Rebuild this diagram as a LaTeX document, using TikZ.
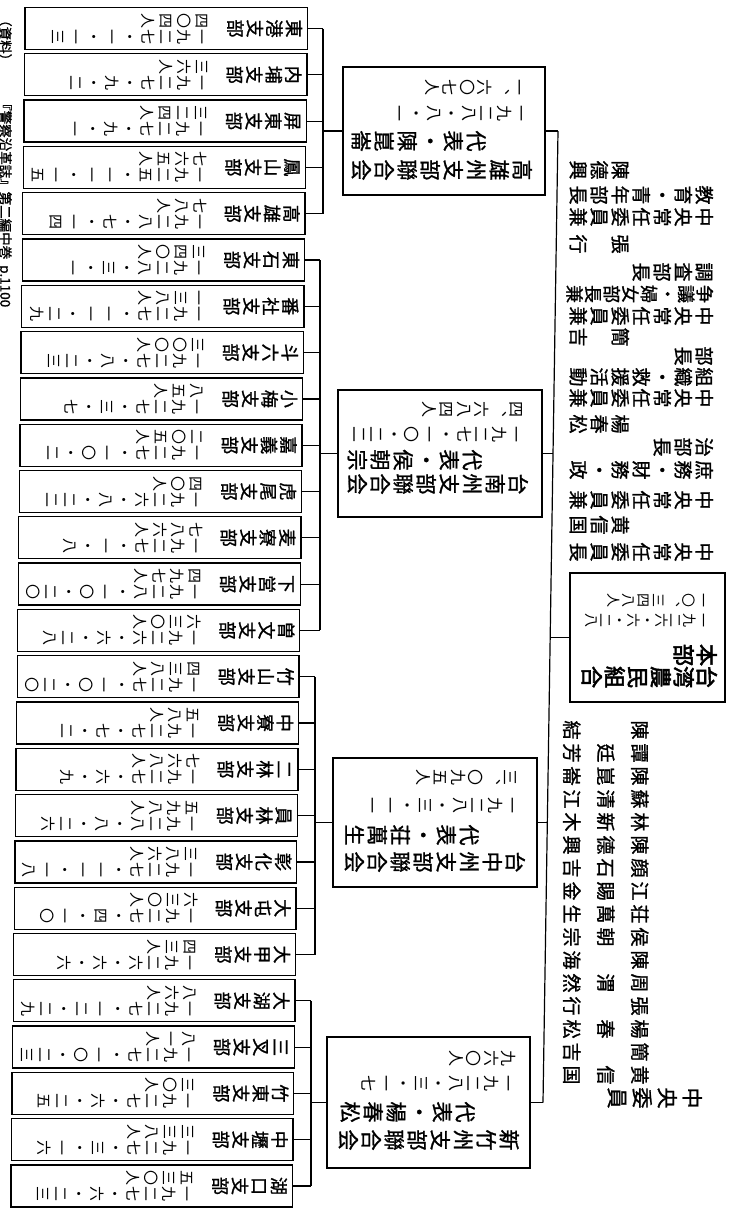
\documentclass[tikz,border=0pt]{standalone}
\usepackage{fontspec}
\newfontfamily\jp{Noto Sans CJK JP}
\newfontfamily\jpb[FakeBold=1.2]{Noto Sans CJK JP}
\newfontfamily\jpbb[FakeBold=2.5]{Noto Sans CJK JP}
\usetikzlibrary{calc}
\makeatletter
\newcommand\tcol[3]{\vtop{\fontsize{#1}{#2}\selectfont\lineskiplimit=-\maxdimen\lineskip=0pt
  \edef\tcolarg{#3}\def\tcolloop{\@tfor\tc:=}%
  \expandafter\tcolloop\tcolarg\do{\hbox to #1pt{\hss\vrule height .88em depth .12em width 0pt\tc\hss}}}}
\makeatother
\begin{document}
\begin{tikzpicture}[x=1pt,y=-1pt,
  tate/.style={rotate=-90,inner sep=0pt,anchor=north},
  yoko/.style={rotate=-90,inner sep=0pt,anchor=north west},
  leafbox/.style={draw,line width=1.3pt,minimum height=42pt,inner sep=0pt},
  fedbox/.style={draw,line width=1.3pt,inner sep=0pt},
  conn/.style={line width=1.2pt}]
\useasboundingbox (0,0) rectangle (731,1208);
% bracket x positions
\coordinate (kbx) at (323,0);
\coordinate (tbx) at (320,0);
\coordinate (cbx) at (315,0);
\coordinate (hbx) at (311,0);
% leaves
\foreach \i/\g/\hd/\mb/\dt in {
1/kbx/東港支部/四〇四人/一九二七・一・一三,
2/kbx/内埔支部/三六人/一九二七・九・二,
3/kbx/屏東支部/三二四人/一九二七・九・一,
4/kbx/鳳山支部/七六五人/一九二五・一一・一五,
5/kbx/高雄支部/七八人/一九二八・七・一四,
6/tbx/東石支部/三四〇人/一九二八・三・一,
7/tbx/番社支部/一三八人/一九二七・一一・二九,
8/tbx/斗六支部/三〇〇人/一九二七・八・二三,
9/tbx/小梅支部/八五人/一九二七・三・七,
10/tbx/嘉義支部/二〇五人/一九二七・一〇・二,
11/tbx/虎尾支部/四〇人/一九二六・八・二二,
12/tbx/麦寮支部/七八六人/一九二七・一・八,
13/tbx/下営支部/四九七人/一九二八・一〇・二〇,
14/tbx/曽文支部/六三〇人/一九二六・六・二八,
15/cbx/竹山支部/四三八人/一九二七・一〇・二〇,
16/cbx/中寮支部/五八人/一九二七・七・二,
17/cbx/二林支部/七六八人/一九二七・六・九,
18/cbx/員林支部/五九八人/一九二八・八・二六,
19/cbx/彰化支部/三八六人/一九二七・一一・一八,
20/cbx/大屯支部/六三〇人/一九二七・四・一〇,
21/cbx/大甲支部/四三人/一九二六・六・六,
22/hbx/大湖支部/八六人/一九二七・一二・二九,
23/hbx/三叉支部/八一人/一九二七・一〇・二三,
24/hbx/竹東支部/三〇人/一九二七・六・二五,
25/hbx/中壢支部/三三八人/一九二七・三・一六,
26/hbx/湖口支部/五三〇人/一九二七・六・二三}{
  \pgfmathsetmacro\cy{28.5+46.3*(\i-1)}
  \pgfmathsetmacro\R{307.5-0.6*(\i-1)}
  \pgfmathsetmacro\L{25-0.56*(\i-1)}
  \pgfmathsetmacro\W{\R-\L}
  \pgfmathsetmacro\cx{(\L+\R)/2}
  \node[leafbox,minimum width=\W pt] (leaf\i) at (\cx,\cy) {};
  \node[tate,font=\jpb] (leafh\i) at ($(leaf\i.east)+(-5,0)$) {\tcol{18}{19.5}{\hd}};
  \node[tate,font=\jp] (leafn\i) at ($(leaf\i.east)+(-98,0)$) {\hbox{\tcol{15}{18}{\mb}\hskip1pt\tcol{15}{18}{\dt}}};
  \draw[conn] (leaf\i.east) -- (leaf\i.east -| \g);
}
% brackets
\draw[conn] (leaf1.east -| kbx) -- (leaf5.east -| kbx);
\draw[conn] (leaf6.east -| tbx) -- (leaf14.east -| tbx);
\draw[conn] (leaf15.east -| cbx) -- (leaf21.east -| cbx);
\draw[conn] (leaf22.east -| hbx) -- (leaf26.east -| hbx);
% federation boxes
\node[fedbox,minimum width=202pt,minimum height=128pt] (kfed) at (444,131) {};
\node[tate,font=\jpb] (kfedh) at (533,170) {\tcol{21}{23}{高雄州支部聯合会}};
\node[tate,font=\jpb] (kfedr) at (487,141) {\tcol{21}{23}{代表・陳崑崙}};
\node[tate,font=\jp] (kfedd) at (530,113) {\tcol{16}{17.5}{一九二八・八・一}};
\node[tate,font=\jp] (kfedm) at (528,87) {\tcol{16}{17.5}{一︑六〇七人}};

\node[fedbox,minimum width=204pt,minimum height=127pt] (tfed) at (440,453.5) {};
\node[tate,font=\jpb] (tfedh) at (529,484) {\tcol{21}{23}{台南州支部聯合会}};
\node[tate,font=\jpb] (tfedr) at (483,460) {\tcol{21}{23}{代表・侯朝宗}};
\node[tate,font=\jp] (tfedd) at (525,434) {\tcol{16}{17.5}{一九二七・一〇・二二}};
\node[tate,font=\jp] (tfedm) at (525,409) {\tcol{16}{17.5}{四︑六八四人}};

\node[fedbox,minimum width=204pt,minimum height=129pt] (cfed) at (435,822.5) {};
\node[tate,font=\jpb] (cfedh) at (526,862) {\tcol{21}{23}{台中州支部聯合会}};
\node[tate,font=\jpb] (cfedr) at (480,835) {\tcol{21}{23}{代表・荘萬生}};
\node[tate,font=\jp] (cfedd) at (521,805) {\tcol{16}{17.5}{一九二八・三・一一}};
\node[tate,font=\jp] (cfedm) at (519,777) {\tcol{16}{17.5}{三︑〇九五人}};

\node[fedbox,minimum width=203pt,minimum height=131pt] (hfed) at (428.5,1102.5) {};
\node[tate,font=\jpb] (hfedh) at (520,1140) {\tcol{21}{23}{新竹州支部聯合会}};
\node[tate,font=\jpb] (hfedr) at (476,1112) {\tcol{21}{23}{代表・楊春松}};
\node[tate,font=\jp] (hfedd) at (517,1083) {\tcol{16}{17.5}{一九二八・三・一七}};
\node[tate,font=\jp] (hfedm) at (517,1058) {\tcol{16}{17.5}{九六〇人}};

\draw[conn] (kfed.west) -- (kfed.west -| kbx);
\draw[conn] (tfed.west) -- (tfed.west -| tbx);
\draw[conn] (cfed.west) -- (cfed.west -| cbx);
\draw[conn] (hfed.west) -- (hfed.west -| hbx);

% root
\node[fedbox,minimum width=155pt,minimum height=129pt] (root) at (647.5,637.5) {};
\node[tate,font=\jpbb] (rooth) at (718,677) {\tcol{22}{23}{台湾農民組合}};
\node[tate,font=\jpbb] (rootb) at (718,655) {\tcol{22}{23}{本部}};
\node[tate,font=\jp] (rootd) at (711,620) {\tcol{14}{14}{一九二六・六・二八}};
\node[tate,font=\jp] (rootm) at (711,600) {\tcol{14}{15}{一〇︑三四八人}};

% main line
\coordinate (mk) at (558,131);
\coordinate (mt) at (553,453.5);
\coordinate (mr) at (550.2,637.5);
\coordinate (mc) at (547.3,822.5);
\coordinate (mh) at (543,1102.5);
\draw[conn] (mk) -- (mh);
\draw[conn] (kfed.east) -- (mk);
\draw[conn] (tfed.east) -- (mt);
\draw[conn] (cfed.east) -- (mc);
\draw[conn] (hfed.east) -- (mh);
\draw[conn] (root.west) -- (mr);

% officers
\foreach \n/\yy/\xx/\t in {o1/170/630/陳德興, o2/195/714/教育・青年部長, o3/217/714/中央常任委員兼,
  o4/244/630/張　行, o5/272/714/調査部長, o7/316/714/中央常任委員兼,
  o8/337/630/簡　吉, o9/356/714/部長, o10/377/714/組織・救援活動, o11/398/714/中央常任委員兼,
  o12/424/630/楊春松, o13/447/714/治部長, o14/470/714/庶務・財務・政, o15/500/714/中央常任委員兼,
  o16/525/630/黄信国, o17/552/714/中央常任委員長}{
  \node[tate,font=\jpb] (\n) at (\xx,\yy) {\tcol{19}{21}{\t}};
}
\node[tate,font=\jpb] (o6) at (714,294) {\tcol{18}{18.6}{争議・婦女部長兼}};

% central committee members
\foreach \k/\t in {0/陳　結,1/譚廷芳,2/陳崑崙,3/蘇清江,4/林新木,5/陳德興,6/顔石吉,7/江賜金,
  8/荘萬生,9/侯朝宗,10/陳　海,11/周渭然,12/張　行,13/楊春松,14/簡　吉,15/黄信国}{
  \node[tate,font=\jpb] (cm\k) at (649.5,{730+23*\k}) {\tcol{19}{34}{\t}};
}
\node[tate,font=\jpb] (cmh) at (703,1098) {\tcol{21}{25}{中央委員}};

% source note (horizontal in the original)
\node[yoko,font=\jpb\fontsize{13.5}{14}\selectfont] (src1) at (12,13) {（資料）};
\node[yoko,font=\jpb\fontsize{13.5}{14}\selectfont] (src2) at (12,97) {『警察沿革誌』第二編中巻\ \ p.1100};
\end{tikzpicture}
\end{document}
